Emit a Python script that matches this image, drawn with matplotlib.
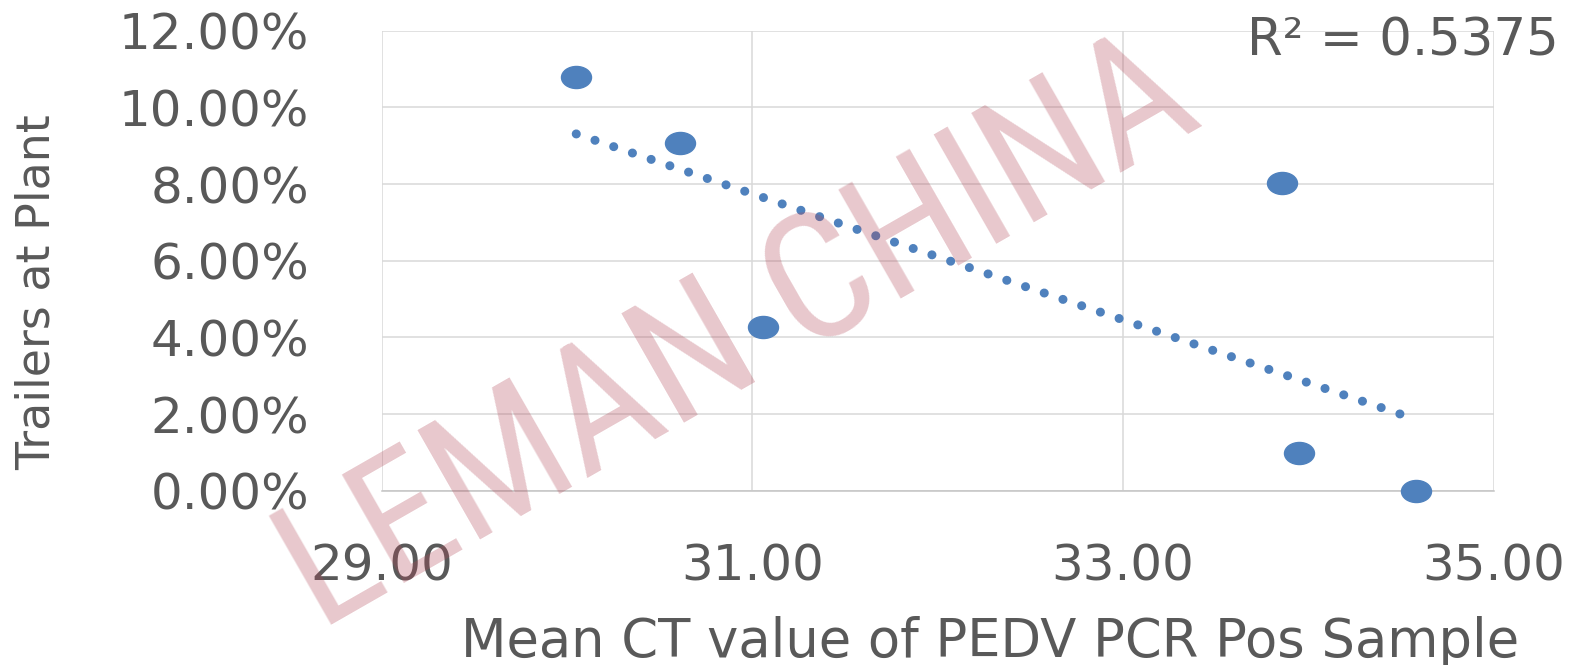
import numpy as np
import matplotlib
matplotlib.use("Agg")
import matplotlib.pyplot as plt
from matplotlib.path import Path
from matplotlib.transforms import Affine2D
from matplotlib.ticker import FuncFormatter, FixedLocator
from matplotlib import font_manager as fm

# data
ct_mean = [30.05, 30.61, 31.06, 33.855, 33.95, 34.58]
trailers_pct = [0.1079, 0.0908, 0.0427, 0.0803, 0.0099, 0.0]
x_ticks = [29, 31, 33, 35]
y_ticks = [0, 0.02, 0.04, 0.06, 0.08, 0.10, 0.12]
r2_label = "R² = 0.5375"
x_title = "Mean CT value of PEDV PCR Pos Sample"
y_title = "Trailers at Plant"
watermark = "LEMAN CHINA"

blue = "#4f81bd"
txt = "#595959"
grid = "#d9d9d9"

plt.rcParams["font.family"] = ["DejaVu Sans"]

fig = plt.figure(figsize=(15.94, 6.65), dpi=100)
ax = fig.add_axes([0.2394, 0.2617, 0.6977, 0.6924])

# elliptical markers (the reference is stretched sideways)
ellipse = Path.unit_circle().transformed(Affine2D().scale(1.36, 1.0))

# linear trendline over the data range
xs = np.array(ct_mean)
ys = np.array(trailers_pct)
k, b = np.polyfit(xs, ys, 1)
tx = np.array([xs.min(), xs.max()])
ax.plot(tx, k * tx + b, color=blue, lw=6.5, linestyle=(0, (0.01, 2.18)),
        dash_capstyle="round", zorder=3)

ax.plot(ct_mean, trailers_pct, linestyle="none", marker=ellipse,
        markersize=21.6, color=blue, clip_on=False, zorder=4)

ax.set_xlim(29, 35)
ax.set_ylim(0, 0.12)
ax.xaxis.set_major_locator(FixedLocator(x_ticks))
ax.yaxis.set_major_locator(FixedLocator(y_ticks))
ax.xaxis.set_major_formatter(FuncFormatter(lambda v, p: f"{v:.2f}"))
ax.yaxis.set_major_formatter(FuncFormatter(lambda v, p: f"{v:.2%}"))
ax.tick_params(length=0, labelsize=36, labelcolor=txt)
ax.tick_params(axis="y", pad=52)
ax.tick_params(axis="x", pad=37)
ax.grid(True, color=grid, lw=1.1)
ax.set_axisbelow(True)
for s in ["top", "right", "left"]:
    ax.spines[s].set_visible(False)
ax.spines["bottom"].set_color("#c4c4c4")
ax.spines["bottom"].set_linewidth(1.1)

ax.set_xlabel(x_title, fontsize=38, color=txt, va="baseline")
ax.xaxis.set_label_coords(0.547, -0.3605)
ax.set_ylabel(y_title, fontsize=33, color=txt, va="center")
ax.yaxis.set_label_coords(-0.31, 0.431)

fig.text(0.978, 0.917, r2_label, ha="right", va="baseline", fontsize=37, color=txt)

# watermark on top, shrunk until it fits inside the figure
names = {f.name for f in fm.fontManager.ttflist}
wm_family, wm_size = "DejaVu Sans", 112
for cand in ["Liberation Sans Narrow", "Roboto Condensed", "Open Sans Condensed",
             "DejaVu Sans Condensed"]:
    if cand in names:
        wm_family, wm_size = cand, 135
        break
wm = fig.text(0.4636, 0.4917, watermark, family=wm_family, fontsize=wm_size,
              rotation=29.8, rotation_mode="anchor", ha="center", va="center",
              color="#b24858", alpha=0.3, zorder=10)
W, H = fig.bbox.width, fig.bbox.height
for _ in range(40):
    fig.canvas.draw()
    bb = wm.get_window_extent()
    if bb.x0 >= 1 and bb.y0 >= 1 and bb.x1 <= W - 1 and bb.y1 <= H - 1:
        break
    if bb.height > H - 4:
        wm.set_fontsize(wm.get_fontsize() - 2)
        continue
    cx, cy = wm.get_position()
    dy = 0.0
    if bb.y0 < 1:
        dy = (2 - bb.y0) / H
    elif bb.y1 > H - 1:
        dy = (H - 2 - bb.y1) / H
    wm.set_position((cx, cy + dy))

fig.savefig("out.png", dpi=100)
